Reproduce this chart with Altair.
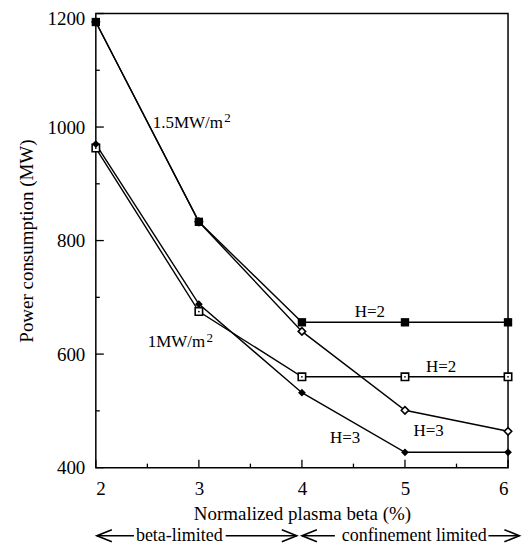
import altair as alt
import pandas as pd

# ---- data ----
beta = [2, 3, 4, 5, 6]
p15_h2 = [1185, 833, 656, 656, 656]   # 1.5 MW/m2, H=2 (filled squares)
p15_h3 = [1185, 833, 640, 501, 464]   # 1.5 MW/m2, H=3 (open diamonds)
p1_h2 = [963, 675, 560, 560, 560]     # 1 MW/m2, H=2 (open squares)
p1_h3 = [970, 688, 532, 427, 427]     # 1 MW/m2, H=3 (filled diamonds)

x_major = [2, 3, 4, 5, 6]
x_minor = [2.5, 3.5, 4.5, 5.5]
y_major = [400, 600, 800, 1000, 1200]
y_minor = [500, 700, 900, 1100]

# curve labels (main part, then raised exponent)
unit_text = ["1.5MW/m", "1MW/m"]
unit_x = [2.552, 2.504]
unit_y = [998, 612]
sup_text = ["2", "2"]
sup_x = [3.245, 3.075]
sup_y = [1008, 622]

h_text = ["H=2", "H=2", "H=3", "H=3"]
h_x = [4.66, 5.35, 4.42, 5.23]
h_y = [675, 578, 453, 464]

region_text = ["beta-limited", "confinement limited"]
region_x = [2.81, 5.09]
region_y = [280, 280]
shaft_x = [2.01, 3.26, 4.00, 5.81]
shaft_x2 = [2.37, 3.95, 4.32, 6.11]
shaft_y = [280, 280, 280, 280]
head_x = [2.01, 3.95, 4.00, 6.11]
head_y = [280, 280, 280, 280]
head_dir = ["left", "right", "left", "right"]

W, H = 413, 455
FONT = "Liberation Serif"

xs = alt.Scale(domain=[2, 6], nice=False, zero=False)
ys = alt.Scale(domain=[400, 1200], nice=False, zero=False)

df = pd.DataFrame({"beta": beta, "p15_h2": p15_h2, "p15_h3": p15_h3,
                   "p1_h2": p1_h2, "p1_h3": p1_h3})

xaxis = alt.Axis(values=x_major, ticks=False, domain=False, grid=False,
                 labelFont=FONT, labelFontSize=19, labelPadding=12,
                 title="Normalized plasma beta (%)", titleFont=FONT,
                 titleFontSize=19, titleFontWeight="normal", titlePadding=6,
                 labelColor="black", titleColor="black")
yaxis = alt.Axis(values=y_major, format="d", ticks=False, domain=False, grid=False,
                 labelFont=FONT, labelFontSize=19, labelPadding=11,
                 labelOffset={"condition": {"test": "datum.value == 1200", "value": 5},
                              "value": 0},
                 title="Power consumption (MW)", titleFont=FONT,
                 titleFontSize=19, titleFontWeight="normal", titlePadding=10,
                 labelColor="black", titleColor="black")


def X(field):
    return alt.X(field, scale=xs, axis=xaxis)


def Y(field):
    return alt.Y(field, scale=ys, axis=yaxis)


base = alt.Chart(df)


def line(col):
    return base.mark_line(color="black", strokeWidth=1.4).encode(
        x=X("beta:Q"), y=Y(f"{col}:Q"))


def pts(col, **mk):
    return base.mark_point(opacity=1, **mk).encode(x=X("beta:Q"), y=Y(f"{col}:Q"))


lines = [line("p15_h2"), line("p15_h3"), line("p1_h2"), line("p1_h3")]

m_p15_h3 = pts("p15_h3", shape="diamond", filled=True, fill="white",
               stroke="black", strokeWidth=1.6, size=55)
m_p1_h2 = pts("p1_h2", shape="square", filled=True, fill="white",
              stroke="black", strokeWidth=1.6, size=55)
m_p1_h2_dot = pts("p1_h2", shape="circle", filled=True, color="black", size=3)
m_p1_h3 = pts("p1_h3", shape="diamond", filled=True, color="black", size=60)
m_p15_h2 = pts("p15_h2", shape="square", filled=True, color="black", size=70)

# inward ticks
xt_major = alt.Chart(pd.DataFrame({"beta": x_major})).mark_rule(
    color="black", strokeWidth=1.3).encode(
    x=X("beta:Q"), y=alt.value(H), y2=alt.value(H - 8))
xt_minor = alt.Chart(pd.DataFrame({"beta": x_minor})).mark_rule(
    color="black", strokeWidth=1.3).encode(
    x=X("beta:Q"), y=alt.value(H), y2=alt.value(H - 4))
yt_major = alt.Chart(pd.DataFrame({"p": y_major})).mark_rule(
    color="black", strokeWidth=1.3).encode(
    y=Y("p:Q"), x=alt.value(0), x2=alt.value(8))
yt_minor = alt.Chart(pd.DataFrame({"p": y_minor})).mark_rule(
    color="black", strokeWidth=1.3).encode(
    y=Y("p:Q"), x=alt.value(0), x2=alt.value(4))

unit_labels = alt.Chart(pd.DataFrame({"t": unit_text, "x": unit_x, "y": unit_y})).mark_text(
    font=FONT, fontSize=17, color="black", align="left", baseline="alphabetic").encode(
    x=X("x:Q"), y=Y("y:Q"), text="t:N")
sup_labels = alt.Chart(pd.DataFrame({"t": sup_text, "x": sup_x, "y": sup_y})).mark_text(
    font=FONT, fontSize=13, color="black", align="left", baseline="alphabetic").encode(
    x=X("x:Q"), y=Y("y:Q"), text="t:N")
h_labels = alt.Chart(pd.DataFrame({"t": h_text, "x": h_x, "y": h_y})).mark_text(
    font=FONT, fontSize=17, color="black", align="center", baseline="middle").encode(
    x=X("x:Q"), y=Y("y:Q"), text="t:N")

region_labels = alt.Chart(pd.DataFrame({"t": region_text, "x": region_x, "y": region_y})).mark_text(
    font=FONT, fontSize=18, color="black", align="center", baseline="middle").encode(
    x=X("x:Q"), y=Y("y:Q"), text="t:N")

shafts = alt.Chart(pd.DataFrame({"x": shaft_x, "x2": shaft_x2, "y": shaft_y})).mark_rule(
    color="black", strokeWidth=1.5).encode(
    x=X("x:Q"), x2="x2:Q", y=Y("y:Q"))

heads_df = pd.DataFrame({"x": head_x, "y": head_y, "d": head_dir})
head_left = alt.Chart(heads_df).transform_filter(alt.datum.d == "left").mark_point(
    shape="M2,-0.8L0,0L2,0.8", size=225, filled=False, stroke="black",
    strokeWidth=1.6, opacity=1).encode(x=X("x:Q"), y=Y("y:Q"))
head_right = alt.Chart(heads_df).transform_filter(alt.datum.d == "right").mark_point(
    shape="M-2,-0.8L0,0L-2,0.8", size=225, filled=False, stroke="black",
    strokeWidth=1.6, opacity=1).encode(x=X("x:Q"), y=Y("y:Q"))

chart = alt.layer(
    *lines, xt_major, xt_minor, yt_major, yt_minor,
    m_p15_h3, m_p1_h2, m_p1_h2_dot, m_p1_h3, m_p15_h2,
    unit_labels, sup_labels, h_labels, region_labels, shafts, head_left, head_right,
).properties(
    width=W, height=H,
    padding={"left": 88, "top": 5, "right": 14, "bottom": 77},
    autosize=alt.AutoSizeParams(type="none"),
    background="white",
).configure_view(stroke="black", strokeWidth=1.5)

chart.save("out.html", embed_options={"renderer": "svg", "actions": False})
